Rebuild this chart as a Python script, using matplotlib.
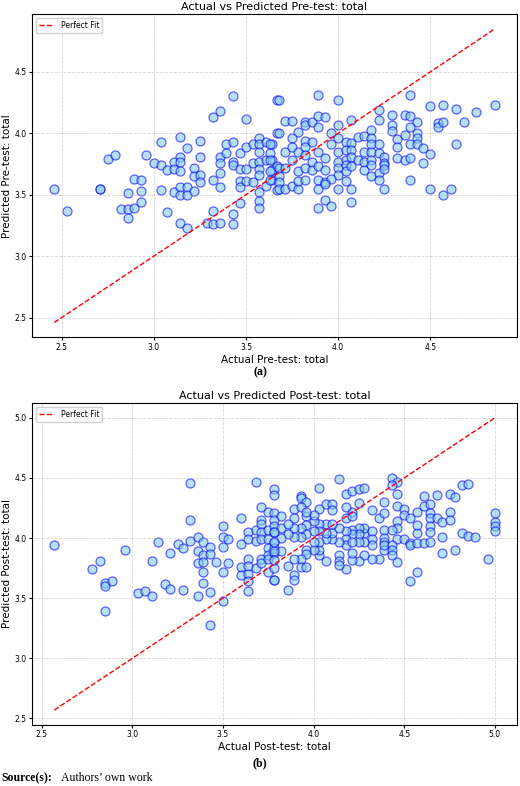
import matplotlib
matplotlib.use("Agg")
import matplotlib.pyplot as plt

# ---- Panel (a): Pre-test ----
pre_actual = [2.46,2.53,2.71,2.71,2.75,2.79,2.82,2.86,2.86,2.86,2.89,2.89,2.93,2.93,2.93,2.96,3.00,3.04,3.04,3.04,
 3.07,3.07,3.11,3.11,3.11,3.14,3.14,3.14,3.14,3.14,3.14,3.14,3.18,3.18,3.18,3.18,3.22,3.22,3.22,3.25,3.25,3.25,3.25,
 3.29,3.32,3.32,3.32,3.32,3.36,3.36,3.36,3.36,3.36,3.36,3.39,3.39,3.43,3.43,3.43,3.43,3.43,3.43,3.47,3.47,3.47,3.47,3.47,
 3.50,3.50,3.50,3.50,3.54,3.54,3.54,3.57,3.57,3.57,3.57,3.57,3.57,3.57,3.57,3.57,3.61,3.61,3.61,3.64,3.64,3.64,3.64,
 3.67,3.67,3.67,3.67,
 3.68,3.89,4.00,4.39,4.50,4.57,4.64,4.75,4.85,4.22,3.71,3.75,3.82,3.82,3.86,3.89,3.93,3.89,4.00,4.07,4.22,4.29,4.29,4.29,
 4.36,4.39,4.43,4.39,4.54,4.54,4.57,4.68,3.68,3.78,3.96,4.18,4.43,3.75,3.82,3.86,3.96,4.00,4.04,4.07,4.11,4.14,4.18,4.18,
 4.22,4.32,4.36,4.32,4.39,4.43,4.43,4.46,4.64,4.50,3.63,3.63,3.63,3.71,3.75,3.75,3.78,3.82,3.82,3.86,3.89,3.93,4.00,4.00,
 4.04,4.04,4.07,4.07,4.11,4.14,4.14,4.18,4.18,4.22,4.25,4.25,4.32,4.36,4.39,4.46,3.68,3.63,3.68,3.71,3.78,3.82,3.86,3.89,
 3.93,4.00,4.00,4.04,4.04,4.07,4.14,4.18,4.18,4.22,4.25,4.25,3.63,3.68,3.68,3.71,3.75,3.78,3.78,3.82,3.89,3.89,3.93,3.96,
 4.00,4.04,4.07,4.22,4.25,4.39,4.50,4.57,4.61,3.89,3.93,3.96,4.07,3.93]
pre_pred = [3.55,3.37,3.55,3.55,3.79,3.82,3.38,3.38,3.31,3.51,3.63,3.39,3.62,3.53,3.44,3.82,3.76,3.93,3.74,3.54,
 3.70,3.36,3.77,3.71,3.52,3.97,3.81,3.77,3.69,3.56,3.50,3.27,3.88,3.56,3.50,3.23,3.72,3.65,3.53,3.94,3.81,3.66,3.60,
 3.27,4.13,3.62,3.37,3.26,4.18,3.81,3.76,3.68,3.56,3.27,3.91,3.84,4.30,3.93,3.77,3.74,3.34,3.26,3.84,3.71,3.61,3.56,3.43,
 4.12,3.89,3.71,3.61,3.91,3.76,3.60,3.96,3.91,3.85,3.77,3.71,3.66,3.52,3.45,3.39,3.93,3.78,3.57,3.91,3.78,3.70,3.62,
 4.27,4.00,3.73,3.54,
 4.27,4.31,4.27,4.31,4.22,4.23,4.20,4.17,4.23,4.19,4.10,4.10,4.09,4.07,4.09,4.14,4.13,4.05,4.07,4.11,4.11,4.15,4.07,4.02,
 4.15,4.14,4.09,4.05,4.08,4.05,4.09,4.09,4.00,4.01,4.00,4.03,4.00,3.96,3.94,3.93,3.91,3.96,3.93,3.92,3.97,3.98,3.96,3.91,
 3.91,3.95,3.99,3.89,3.91,3.96,3.91,3.88,3.91,3.83,3.91,3.84,3.78,3.85,3.89,3.78,3.85,3.89,3.82,3.77,3.85,3.80,3.85,3.77,
 3.86,3.78,3.86,3.81,3.78,3.85,3.77,3.85,3.78,3.84,3.81,3.76,3.80,3.78,3.80,3.76,3.72,3.69,3.65,3.72,3.69,3.72,3.70,3.73,
 3.70,3.72,3.66,3.74,3.69,3.73,3.70,3.74,3.65,3.68,3.74,3.71,3.62,3.60,3.55,3.55,3.57,3.55,3.61,3.62,3.62,3.55,3.60,3.63,
 3.55,3.61,3.55,3.62,3.55,3.62,3.55,3.50,3.55,3.39,3.46,3.41,3.44,3.59]

# ---- Panel (b): Post-test, (actual, predicted) pairs ----
post_points = [
 (2.57,3.94),(2.78,3.74),(2.82,3.81),(2.85,3.63),(2.85,3.60),(2.89,3.64),(2.85,3.39),(2.96,3.90),(3.03,3.54),(3.07,3.56),
 (3.11,3.52),(3.11,3.81),(3.14,3.97),(3.18,3.62),(3.21,3.88),(3.21,3.58),(3.25,3.95),(3.28,3.92),(3.28,3.57),(3.32,4.46),
 (3.32,4.15),(3.32,3.98),(3.36,4.01),(3.36,3.89),(3.36,3.79),(3.36,3.52),(3.39,3.97),(3.39,3.86),(3.39,3.80),(3.39,3.72),
 (3.39,3.63),(3.43,3.93),(3.43,3.87),(3.43,3.55),(3.43,3.28),(3.46,3.80),(3.50,4.10),(3.50,4.01),(3.50,3.93),(3.50,3.72),
 (3.50,3.48),(3.53,3.99),(3.53,3.79),(3.60,4.17),(3.60,3.95),(3.60,3.76),(3.60,3.69),(3.64,4.05),(3.64,3.99),(3.64,3.83),
 (3.64,3.77),(3.64,3.70),(3.64,3.64),(3.64,3.56),(3.68,4.47),(3.68,4.07),(3.68,3.98),(3.68,3.75),(3.71,4.26),(3.71,4.15),
 (3.71,4.12),(3.71,4.05),(3.71,3.99),(3.71,3.83),(3.71,3.79),(3.75,4.22),(3.75,4.07),(3.75,3.99),(3.75,3.92),(3.75,3.86),
 (3.75,3.83),(3.75,3.72),(3.78,4.41),(3.78,4.36),(3.78,4.21),(3.78,4.15),(3.78,4.10),(3.78,4.05),(3.78,3.97),(3.78,3.92),
 (3.78,3.88),(3.78,3.75),(3.78,3.65),
 (3.93,4.35),(3.93,4.33),(3.96,4.30),(4.03,4.42),(4.14,4.49),(4.18,4.37),(4.21,4.39),(4.25,4.41),(4.28,4.42),(4.43,4.50),
 (4.46,4.47),(4.43,4.44),(4.46,4.37),(4.25,4.29),(4.21,4.22),(4.18,4.26),(4.07,4.28),(4.10,4.28),(4.10,4.23),(4.03,4.24),
 (3.89,4.24),(3.93,4.26),(4.32,4.23),(4.36,4.17),(4.39,4.21),(4.39,4.30),(4.46,4.27),(4.50,4.24),(4.50,4.19),(4.53,4.17),
 (4.57,4.22),(4.61,4.35),(4.61,4.27),(4.64,4.28),(4.68,4.36),(4.75,4.37),(4.78,4.34),(4.82,4.44),(4.85,4.45),(5.00,4.21),
 (5.00,4.13),(5.00,4.10),(5.00,4.06),(4.64,4.21),(4.64,4.17),(4.68,4.17),(4.71,4.13),(4.75,4.22),(4.75,4.15),(4.57,4.04),
 (4.57,4.11),(4.64,4.10),(4.64,4.05),(4.46,4.14),(4.46,4.08),(4.39,4.07),(4.43,4.07),(4.39,4.00),(4.39,3.97),(4.46,3.99),
 (4.50,3.99),(4.53,3.96),(4.53,3.94),(4.57,3.96),(4.61,3.96),(4.64,3.97),(4.71,4.01),(4.82,4.04),(4.85,4.02),(4.89,4.01),
 (4.96,3.83),(4.78,3.90),(4.71,3.88),(4.57,3.72),(4.53,3.64),(4.39,3.90),(4.39,3.94),(4.43,3.94),(4.43,3.90),(4.43,3.86),
 (4.46,3.80),(4.36,3.83),(4.32,3.83),(4.28,3.86),(4.25,3.81),(4.21,3.82),(4.21,3.88),(4.18,3.74),(4.14,3.86),(4.14,3.81),
 (4.14,3.78),(4.07,3.81),(4.03,3.86),(4.03,3.90),(4.00,3.90),(3.96,3.90),(3.96,3.87),(3.93,3.83),(3.93,3.76),(3.96,3.76),
 (3.89,3.83),(3.86,3.77),(3.82,3.89),(3.78,3.89),(3.78,3.82),(3.78,3.65),(3.89,3.69),(3.89,3.65),(3.86,3.57),(4.28,4.04),
 (4.28,4.08),(4.25,4.08),(4.25,4.03),(4.21,4.07),(4.21,4.03),(4.18,4.06),(4.18,3.99),(4.18,3.94),(4.14,3.97),(4.10,3.99),
 (4.10,4.04),(4.07,3.99),(4.07,4.04),(4.07,4.12),(4.03,4.12),(4.03,4.06),(4.03,3.97),(4.00,3.97),(4.00,4.06),(4.00,4.14),
 (3.96,4.18),(3.96,4.11),(3.96,4.03),(3.93,4.08),(3.93,4.01),(3.89,4.08),(3.89,4.01),(3.86,4.03),(3.82,4.08),(3.82,4.00),
 (3.78,4.05),(3.78,3.97),(4.32,4.06),(4.32,3.99),(4.32,3.94),(4.28,3.97),(4.25,3.97),(4.21,3.97),(4.14,4.08),(4.10,4.12),
 (4.18,4.17),(4.21,4.18),(4.00,4.19),(3.96,4.22),(3.89,4.17),(3.86,4.12),(3.82,4.18)]
post_actual = [p[0] for p in post_points]
post_pred = [p[1] for p in post_points]

fig = plt.figure(figsize=(5.2, 7.86), dpi=100)

def panel(rect, xa, yp, title, xl, yl):
    ax = fig.add_axes(rect)
    ax.scatter(xa, yp, s=42, facecolor='skyblue', edgecolor='blue', alpha=0.6, linewidth=0.9)
    lo, hi = min(xa), max(xa)
    ax.plot([lo, hi], [lo, hi], 'r--', linewidth=1, label='Perfect Fit')
    ax.set_title(title, fontsize=8, pad=3)
    ax.set_xlabel(xl, fontsize=7.5, labelpad=2)
    ax.set_ylabel(yl, fontsize=7.5, labelpad=2)
    ax.tick_params(labelsize=5.5, length=2, pad=2)
    ax.grid(True, linestyle='--', alpha=0.5, linewidth=0.6)
    ax.legend(loc='upper left', fontsize=5.5, framealpha=0.9)
    return ax

panel([0.062, 0.571, 0.932, 0.411], pre_actual, pre_pred,
      'Actual vs Predicted Pre-test: total', 'Actual Pre-test: total', 'Predicted Pre-test: total')
panel([0.062, 0.078, 0.932, 0.409], post_actual, post_pred,
      'Actual vs Predicted Post-test: total', 'Actual Post-test: total', 'Predicted Post-test: total')

fig.text(0.5, 1 - 372/786, '(a)', ha='center', va='center', fontsize=8.5, fontweight='bold', family='Liberation Serif')
fig.text(0.5, 1 - 763/786, '(b)', ha='center', va='center', fontsize=8.5, fontweight='bold', family='Liberation Serif')
fig.text(0.003, 1 - 778/786, 'Source(s):', ha='left', va='center', fontsize=8.5, fontweight='bold', family='Liberation Serif')
fig.text(0.118, 1 - 778/786, 'Authors\u2019 own work', ha='left', va='center', fontsize=8.5, family='Liberation Serif')

fig.savefig('out.png', dpi=100)
